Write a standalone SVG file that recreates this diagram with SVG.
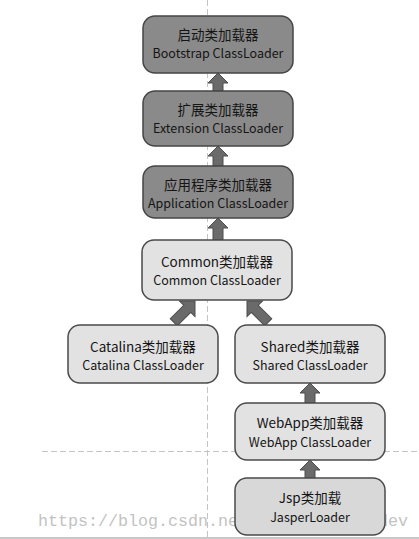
<svg xmlns="http://www.w3.org/2000/svg" xmlns:xlink="http://www.w3.org/1999/xlink" width="419" height="539" viewBox="0 0 419 539">
<style>
.dk{fill:#8a8a8a;stroke:#454545;stroke-width:1.5}
.lt{fill:#e2e2e2;stroke:#4a4a4a;stroke-width:1.5}
.js{fill:#d8d8d8;stroke:#4a4a4a;stroke-width:1.5}
.cn{font-family:"Noto Sans CJK SC","Noto Sans",sans-serif;font-size:13.5px;fill:#151515;text-anchor:middle}
.en{font-family:"Noto Sans CJK SC","Noto Sans",sans-serif;font-size:12.5px;fill:#151515;text-anchor:middle}
.ar{fill:#6a6a6a;stroke:#4c4c4c;stroke-width:1}
.dash{stroke:#c4c4c4;stroke-width:1;stroke-dasharray:6 3;fill:none}
.wm{font-family:"Liberation Mono",monospace;font-size:16.7px;fill:#b4b4b4;opacity:0.8}
</style>
<defs>
<path id="arr" d="M0,0 L11,11 L5,11 L5,30 L-5,30 L-5,11 L-11,11 Z"/>
</defs>
<rect width="419" height="539" fill="#ffffff"/>
<g id="guides">
<line class="dash" x1="207.5" y1="0" x2="207.5" y2="537"/>
<line class="dash" x1="42" y1="451.5" x2="419" y2="451.5"/>
<rect x="0" y="537" width="419" height="2" fill="#c8c8c8"/>
</g>
<text class="wm" x="38" y="526" textLength="370" lengthAdjust="spacing">https://blog.csdn.net/vipshop_fin_dev</text>
<g id="connectors">
<polygon class="ar" points="218,73 228,83 223,83 223,91 213,91 213,83 208,83"/>
<polygon class="ar" points="218,146 228,156 223,156 223,166 213,166 213,156 208,156"/>
<polygon class="ar" points="218,218 228,228 223,228 223,240 213,240 213,228 208,228"/>
<use class="ar" xlink:href="#arr" transform="translate(195,301) rotate(45)"/>
<use class="ar" xlink:href="#arr" transform="translate(247,301) rotate(-45)"/>
<polygon class="ar" points="310,383 320,393 315,393 315,403 305,403 305,393 300,393"/>
<polygon class="ar" points="310,460 320,470 315,470 315,478 305,478 305,470 300,470"/>
</g>
<g id="bootstrap">
<rect class="dk" x="143" y="16" width="150" height="57" rx="12"/>
<text class="cn" x="218" y="39.5">启动类加载器</text>
<text class="en" x="218" y="58">Bootstrap ClassLoader</text>
</g>
<g id="extension">
<rect class="dk" x="143" y="91" width="150" height="55" rx="12"/>
<text class="cn" x="218" y="114.5">扩展类加载器</text>
<text class="en" x="218" y="133">Extension ClassLoader</text>
</g>
<g id="application">
<rect class="dk" x="143" y="166" width="150" height="52" rx="12"/>
<text class="cn" x="218" y="189.5">应用程序类加载器</text>
<text class="en" x="218" y="207.5">Application ClassLoader</text>
</g>
<g id="common">
<rect class="lt" x="142" y="240" width="150" height="60" rx="12"/>
<text class="cn" x="217" y="266.5">Common类加载器</text>
<text class="en" x="217" y="284.5">Common ClassLoader</text>
</g>
<g id="catalina">
<rect class="lt" x="68" y="325" width="150" height="58" rx="12"/>
<text class="cn" x="143" y="351.5">Catalina类加载器</text>
<text class="en" x="143" y="370">Catalina ClassLoader</text>
</g>
<g id="shared">
<rect class="lt" x="235" y="325" width="150" height="58" rx="12"/>
<text class="cn" x="310" y="351.5">Shared类加载器</text>
<text class="en" x="310" y="370">Shared ClassLoader</text>
</g>
<g id="webapp">
<rect class="lt" x="235" y="403" width="150" height="57" rx="12"/>
<text class="cn" x="310" y="427.5">WebApp类加载器</text>
<text class="en" x="310" y="447">WebApp ClassLoader</text>
</g>
<g id="jsp">
<rect class="js" x="235" y="478" width="150" height="57" rx="12"/>
<text class="cn" x="310" y="502.5">Jsp类加载</text>
<text class="en" x="310" y="522">JasperLoader</text>
</g>
</svg>
